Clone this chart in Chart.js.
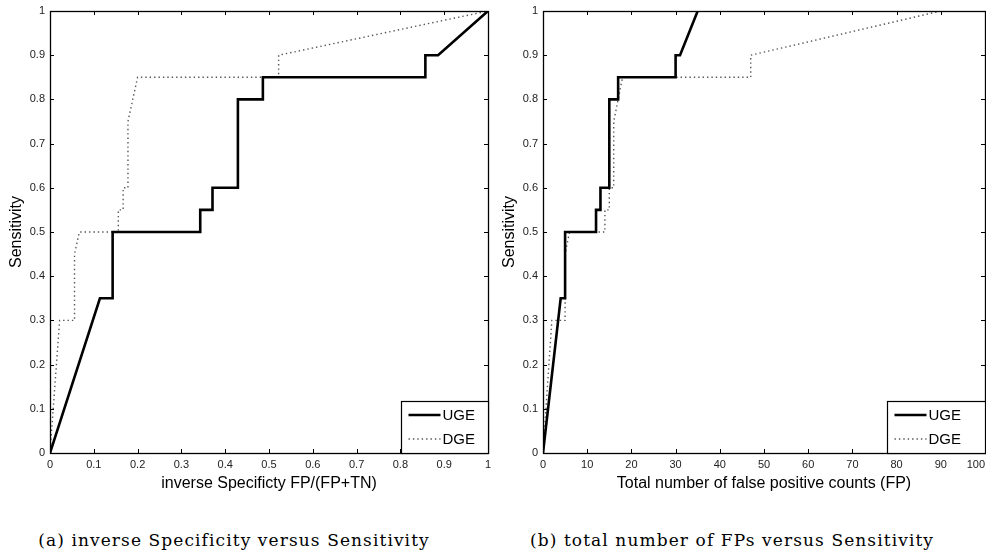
<!DOCTYPE html>
<html>
<head>
<meta charset="utf-8">
<title>ROC curves UGE / DGE</title>
<script src="https://cdn.jsdelivr.net/npm/chart.js@4.4.1/dist/chart.umd.min.js"></script>
<style>
  body { margin: 0; background: #fff; }
  #page { position: relative; width: 986px; height: 556px; overflow: hidden; }
  .panel { position: absolute; top: 0; }
  #panelA { left: 0; }
  #panelB { left: 493px; }
  .caption {
    position: absolute; top: 530px; white-space: nowrap;
    font-family: "DejaVu Serif", "Liberation Serif", serif; font-size: 17px; color: #000;
    letter-spacing: 1.1px;
    transform: translateX(-50%);
  }
</style>
</head>
<body>
<div id="page">
  <div class="panel" id="panelA"><canvas id="rateChart" width="493" height="500"></canvas></div>
  <div class="panel" id="panelB"><canvas id="countChart" width="493" height="500"></canvas></div>
  <div class="caption" style="left:234px">(a) inverse Specificity versus Sensitivity</div>
  <div class="caption" style="left:732px">(b) total number of FPs versus Sensitivity</div>
</div>
<script>
// UGE curve
const ugeSens = [0, 0.35, 0.35, 0.5, 0.5, 0.55, 0.55, 0.6, 0.6, 0.8, 0.8, 0.85, 0.85, 0.9, 0.9, 1];
const ugeRate = [0, 0.114, 0.143, 0.143, 0.343, 0.343, 0.371, 0.371, 0.429, 0.429, 0.486, 0.486, 0.857, 0.857, 0.886, 1];
const ugeFP   = [0, 4, 5, 5, 12, 12, 13, 13, 15, 15, 17, 17, 30, 30, 31, 35];

// DGE curve
const dgeSens = [0, 0.3, 0.3, 0.45, 0.5, 0.5, 0.55, 0.55, 0.6, 0.6, 0.75, 0.8, 0.85, 0.85, 0.9, 1];
const dgeRate = [0, 0.022, 0.056, 0.056, 0.067, 0.156, 0.156, 0.167, 0.167, 0.178, 0.178, 0.189, 0.2, 0.522, 0.522, 1];
const dgeFP   = [0, 2, 5, 5, 6, 14, 14, 15, 15, 16, 16, 17, 18, 47, 47, 90];

// tick labels
const sensTicks  = ['0', '0.1', '0.2', '0.3', '0.4', '0.5', '0.6', '0.7', '0.8', '0.9', '1'];
const rateTicks  = ['0', '0.1', '0.2', '0.3', '0.4', '0.5', '0.6', '0.7', '0.8', '0.9', '1'];
const countTicks = ['0', '10', '20', '30', '40', '50', '60', '70', '80', '90', '100'];

const SANS = '"Liberation Sans", Arial, sans-serif';

function pts(xs, ys) {
  return xs.map((x, i) => ({ x: x, y: ys[i] }));
}

// box around the axes, inward ticks on all four sides, legend in the corner
const matlabAxes = {
  id: 'matlabAxes',
  afterDatasetsDraw(chart, args, opts) {
    const { ctx, chartArea: a, scales: { x, y } } = chart;
    ctx.save();
    ctx.strokeStyle = '#000';
    ctx.lineWidth = 1;
    ctx.beginPath();
    x.ticks.forEach(t => {
      const px = Math.round(x.getPixelForValue(t.value)) + 0.5;
      ctx.moveTo(px, a.bottom); ctx.lineTo(px, a.bottom - 4);
      ctx.moveTo(px, a.top); ctx.lineTo(px, a.top + 4);
    });
    y.ticks.forEach(t => {
      const py = Math.round(y.getPixelForValue(t.value)) + 0.5;
      ctx.moveTo(a.left, py); ctx.lineTo(a.left + 4, py);
      ctx.moveTo(a.right, py); ctx.lineTo(a.right - 4, py);
    });
    ctx.stroke();
    ctx.lineWidth = 1.3;
    ctx.strokeRect(Math.round(a.left) + 0.5, Math.round(a.top) + 0.5,
                   Math.round(a.width), Math.round(a.height));

    // legend
    const w = opts.boxWidth, h = opts.boxHeight;
    const bx = Math.round(a.right) - w + 0.5, by = Math.round(a.bottom) - h + 0.5;
    ctx.fillStyle = '#fff';
    ctx.fillRect(bx, by, w, h);
    ctx.lineWidth = 1.2;
    ctx.strokeRect(bx, by, w, h);
    ctx.font = '15px ' + SANS;
    ctx.textBaseline = 'middle';
    ctx.fillStyle = '#000';
    chart.data.datasets.forEach((ds, i) => {
      const ry = by + 13.5 + i * 24;
      ctx.beginPath();
      ctx.strokeStyle = ds.borderColor;
      ctx.lineWidth = ds.borderWidth;
      ctx.setLineDash(ds.borderDash || []);
      ctx.moveTo(bx + 7, ry);
      ctx.lineTo(bx + 39, ry);
      ctx.stroke();
      ctx.setLineDash([]);
      ctx.fillText(ds.label, bx + 41, ry + 1);
    });
    ctx.restore();
  }
};

function makeChart(id, uge, dge, xMax, xTicks, xTitle, rightPad, legendW) {
  const last = xTicks.length - 1;
  return new Chart(document.getElementById(id), {
    type: 'scatter',
    data: {
      datasets: [{
        label: 'UGE',
        data: uge,
        showLine: true,
        borderColor: '#000',
        borderWidth: 2.6,
        pointRadius: 0,
        fill: false
      }, {
        label: 'DGE',
        data: dge,
        showLine: true,
        borderColor: '#555',
        borderWidth: 1.4,
        borderDash: [1.4, 3],
        pointRadius: 0,
        fill: false
      }]
    },
    options: {
      responsive: false,
      animation: false,
      layout: { padding: { top: 11, right: rightPad, left: 0, bottom: 7 } },
      plugins: {
        legend: { display: false },
        tooltip: { enabled: false },
        matlabAxes: { boxWidth: legendW, boxHeight: 52 }
      },
      scales: {
        x: {
          type: 'linear', min: 0, max: xMax,
          grid: { display: false, drawTicks: false },
          border: { display: false },
          ticks: {
            stepSize: xMax / 10, autoSkip: false, maxRotation: 0, padding: 5,
            color: '#222', font: { family: SANS, size: 11 },
            // keep the wide last label inside the page edge
            callback: (v, i) => (i === last && xTicks[i].length > 2) ? xTicks[i] + '      ' : xTicks[i]
          },
          title: {
            display: true, text: xTitle, color: '#000',
            font: { family: SANS, size: 16 }, padding: { top: 0, bottom: 0 }
          },
          afterFit(s) { s.height = 40; s.paddingLeft = 0; s.paddingRight = 0; }
        },
        y: {
          type: 'linear', min: 0, max: 1,
          grid: { display: false, drawTicks: false },
          border: { display: false },
          ticks: {
            stepSize: 0.1, autoSkip: false, padding: 5,
            color: '#222', font: { family: SANS, size: 11 },
            callback: (v, i) => sensTicks[i]
          },
          title: {
            display: true, text: 'Sensitivity', color: '#000',
            font: { family: SANS, size: 16 }, padding: { top: 7, bottom: 0 }
          },
          afterFit(s) { s.width = 50; s.paddingTop = 0; s.paddingBottom = 0; }
        }
      }
    },
    plugins: [matlabAxes]
  });
}

makeChart('rateChart', pts(ugeRate, ugeSens), pts(dgeRate, dgeSens), 1, rateTicks,
  'inverse Specificty FP/(FP+TN)', 5, 87);
makeChart('countChart', pts(ugeFP, ugeSens), pts(dgeFP, dgeSens), 100, countTicks,
  'Total number of false positive counts (FP)', 1, 98);
</script>
</body>
</html>
